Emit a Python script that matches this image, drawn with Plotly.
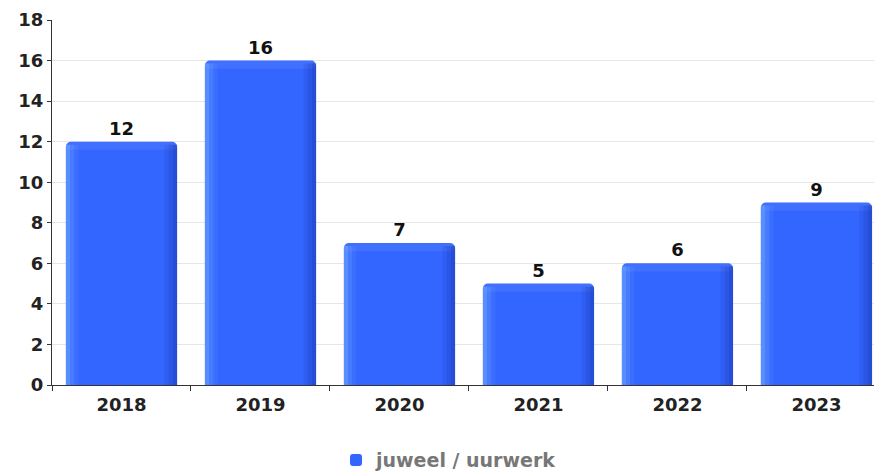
import plotly.graph_objects as go

years = ["2018", "2019", "2020", "2021", "2022", "2023"]
values = [12, 16, 7, 5, 6, 9]
series_name = "juweel / uurwerk"
y_ticks = [0, 2, 4, 6, 8, 10, 12, 14, 16, 18]

fig = go.Figure()
fig.add_trace(go.Bar(
    x=years, y=values, name=series_name,
    marker=dict(color="#3366ff", line=dict(width=0), cornerradius=5),
    width=0.8, offset=-0.4,
    text=[str(v) for v in values], textposition="outside",
    textfont=dict(family="DejaVu Sans", size=18, color="#111111", weight="bold"),
    cliponaxis=False,
))
# top bevel highlight
bevel = 0.4
fig.add_trace(go.Bar(
    x=years, y=[bevel] * len(values), base=[v - bevel for v in values],
    showlegend=False, hoverinfo="skip",
    marker=dict(color="rgba(255,255,255,0.07)", line=dict(width=0), cornerradius=5),
    width=0.8, offset=-0.4,
))
# shading strips for the 3D look (left highlight, right shadow)
strips = [
    (-0.40, 0.03, "rgba(120,175,255,0.55)"),
    (-0.37, 0.03, "rgba(120,175,255,0.30)"),
    (-0.34, 0.03, "rgba(120,175,255,0.12)"),
    (0.31, 0.03, "rgba(20,40,150,0.12)"),
    (0.34, 0.03, "rgba(20,40,150,0.25)"),
    (0.37, 0.03, "rgba(20,40,150,0.40)"),
]
for off, w, col in strips:
    fig.add_trace(go.Bar(
        x=years, y=[v - 0.15 for v in values], showlegend=False, hoverinfo="skip",
        marker=dict(color=col, line=dict(width=0)),
        width=w, offset=off,
    ))

fig.update_layout(
    width=874, height=471,
    margin=dict(l=52, r=0, t=20, b=86, autoexpand=False),
    barmode="overlay",
    plot_bgcolor="white", paper_bgcolor="white",
    font=dict(family="DejaVu Sans", size=18, color="#222222"),
    showlegend=True,
    legend=dict(orientation="h", x=0.483, xanchor="center",
                yref="container", y=0.023, yanchor="middle",
                font=dict(family="DejaVu Sans", size=19, color="#777777", weight="bold")),
    xaxis=dict(
        range=[-0.5, 5.414], showline=True, linecolor="#333333", linewidth=1,
        ticks="outside", ticklen=5, tickcolor="#333333", tickson="boundaries",
        ticklabelstandoff=3,
        tickfont=dict(family="DejaVu Sans", size=18, color="#222222", weight="bold"),
        showgrid=False, fixedrange=True, automargin=False,
    ),
    yaxis=dict(
        range=[0, 18], tickvals=y_ticks, showline=True, linecolor="#333333", linewidth=1,
        ticks="outside", ticklen=4, tickcolor="#333333",
        tickfont=dict(family="DejaVu Sans", size=18, color="#222222", weight="bold"),
        showgrid=True, gridcolor="#e6e6e6", zeroline=False, automargin=False,
    ),
)

fig.write_html(
    "out.html",
    config={"displayModeBar": False},
    post_script="document.body.style.margin='0';document.body.style.overflow='hidden';",
)
